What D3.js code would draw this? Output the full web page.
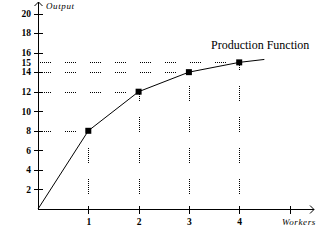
<!DOCTYPE html>
<html>
<head>
<meta charset="utf-8">
<script src="https://cdn.jsdelivr.net/npm/d3@7"></script>
<style>
  body { margin: 0; background: #fff; }
  text { font-family: "Liberation Serif", "Times New Roman", serif; fill: #000; }
</style>
</head>
<body>
<div id="chart"></div>
<script>
// production function data
const workers = [0, 1, 2, 3, 4, 4.5];
const output = [0, 8, 12, 14, 15, 15.3];
const markedWorkers = [1, 2, 3, 4];
const markedOutput = [8, 12, 14, 15];
const yTicks = [2, 4, 6, 8, 10, 12, 14, 15, 16, 18, 20];
const xTicks = [1, 2, 3, 4, 5];
const xTickLabels = ["1", "2", "3", "4", ""];

const width = 318, height = 250;

const svg = d3.select("#chart").append("svg")
  .attr("width", width)
  .attr("height", height);

const x = d3.scaleLinear().domain([0, 5]).range([38, 289.5]);
const y = d3.scaleLinear().domain([0, 20]).range([209, 13.5]);

// dotted guide patterns
function dots(n) { return d3.range(n).map(() => "1,1").join(","); }
const hDash = dots(6) + ",0,13";
const vDash = dots(8) + ",0,15";

const guides = svg.append("g").attr("stroke", "#000").attr("stroke-width", 1);
markedWorkers.forEach((w, i) => {
  const v = markedOutput[i];
  guides.append("line")
    .attr("x1", x(0)).attr("x2", x(w))
    .attr("y1", Math.round(y(v)) + 0.5).attr("y2", Math.round(y(v)) + 0.5)
    .attr("stroke-dasharray", hDash)
    .attr("stroke-dashoffset", 23);
  guides.append("line")
    .attr("x1", Math.round(x(w)) + 0.5).attr("x2", Math.round(x(w)) + 0.5)
    .attr("y1", y(0)).attr("y2", y(v))
    .attr("stroke-dasharray", vDash)
    .attr("stroke-dashoffset", 16);
});

// y axis
svg.append("line")
  .attr("x1", x(0) + 0.5).attr("x2", x(0) + 0.5)
  .attr("y1", y(0)).attr("y2", 2)
  .attr("stroke", "#000");
svg.append("path")
  .attr("d", `M${x(0) - 3.5},6 L${x(0) + 0.5},2 L${x(0) + 4.5},6`)
  .attr("fill", "none").attr("stroke", "#000");

const yAxis = svg.append("g");
yAxis.selectAll("line").data(yTicks.filter(d => d !== 15)).enter().append("line")
  .attr("x1", x(0) - 4).attr("x2", x(0) + 5)
  .attr("y1", d => Math.round(y(d)) + 0.5).attr("y2", d => Math.round(y(d)) + 0.5)
  .attr("stroke", "#000");
yAxis.selectAll("text").data(yTicks).enter().append("text")
  .attr("x", 31)
  .attr("y", d => y(d))
  .attr("dy", "0.35em")
  .attr("text-anchor", "end")
  .attr("font-size", 9.5)
  .attr("font-weight", "bold")
  .text(d => d);

// x axis
svg.append("line")
  .attr("x1", x(0)).attr("x2", 314)
  .attr("y1", y(0) + 0.5).attr("y2", y(0) + 0.5)
  .attr("stroke", "#000");
svg.append("path")
  .attr("d", `M310,${y(0) - 3.5} L314,${y(0) + 0.5} L310,${y(0) + 4.5}`)
  .attr("fill", "none").attr("stroke", "#000");

const xAxis = svg.append("g");
xAxis.selectAll("line").data(xTicks).enter().append("line")
  .attr("x1", d => Math.round(x(d)) + 0.5).attr("x2", d => Math.round(x(d)) + 0.5)
  .attr("y1", y(0) - 3).attr("y2", y(0) + 5)
  .attr("stroke", "#000");
xAxis.selectAll("text").data(xTicks).enter().append("text")
  .attr("x", d => x(d) + 0.5)
  .attr("y", 222)
  .attr("dy", "0.35em")
  .attr("text-anchor", "middle")
  .attr("font-size", 9.5)
  .attr("font-weight", "bold")
  .text((d, i) => xTickLabels[i]);

// axis titles
svg.append("text")
  .attr("x", 46).attr("y", 9)
  .attr("font-size", 9)
  .attr("font-style", "italic")
  .attr("letter-spacing", 0.6)
  .text("Output");
svg.append("text")
  .attr("x", 282).attr("y", 225)
  .attr("font-size", 9)
  .attr("font-style", "italic")
  .attr("letter-spacing", 0.6)
  .text("Workers");

// production function curve
const pts = workers.map((w, i) => [w, output[i]]);
svg.append("path")
  .datum(pts)
  .attr("fill", "none")
  .attr("stroke", "#000")
  .attr("stroke-width", 1)
  .attr("d", d3.line().x(d => x(d[0])).y(d => y(d[1])));

svg.selectAll("rect.pt").data(markedWorkers).enter().append("rect")
  .attr("class", "pt")
  .attr("x", d => x(d) - 3)
  .attr("y", (d, i) => y(markedOutput[i]) - 3)
  .attr("width", 6).attr("height", 6)
  .attr("fill", "#000");

svg.append("text")
  .attr("x", 211).attr("y", 49)
  .attr("font-size", 12)
  .text("Production Function");
</script>
</body>
</html>
